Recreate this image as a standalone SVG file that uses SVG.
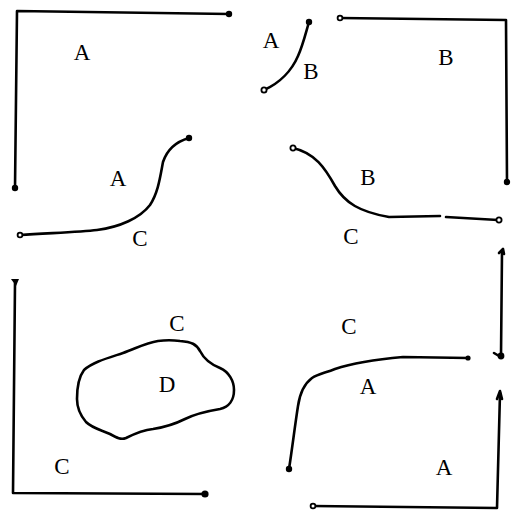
<svg xmlns="http://www.w3.org/2000/svg" width="512" height="512" viewBox="0 0 512 512">
<style>
.ln{fill:none;stroke:#000;stroke-width:2.6;stroke-linecap:round;stroke-linejoin:round}
.dot{fill:#000}
.od{fill:#fff;stroke:#000;stroke-width:1.8}
.t{font-family:"Liberation Serif","Times New Roman",serif;font-size:23px;fill:#000;text-anchor:middle}
</style>
<rect width="512" height="512" fill="#fff"/>
<!-- top-left L -->
<path class="ln" d="M229,14 L17,11 L15,188"/>
<circle class="dot" cx="229" cy="14" r="3.2"/>
<circle class="dot" cx="15" cy="188" r="3.2"/>
<!-- curve A/C left -->
<path class="ln" d="M20,235 C50,233 80,232 97,230 C120,227 140,218 150,205 C158,193 160,178 163,162 C167,150 175,142 189,138"/>
<circle class="od" cx="20" cy="235" r="2.4"/>
<circle class="dot" cx="189" cy="138" r="3.2"/>
<!-- small arc A/B -->
<path class="ln" d="M264,90 C280,83 292,70 298,56 C303,45 306,32 309,22"/>
<circle class="od" cx="264" cy="90" r="2.6"/>
<circle class="dot" cx="309" cy="22" r="3.2"/>
<!-- top-right -->
<path class="ln" d="M340,18 L506,20 L507,182"/>
<circle class="od" cx="340" cy="18" r="2.4"/>
<circle class="dot" cx="507" cy="182" r="3.2"/>
<!-- curve B/C right -->
<path class="ln" d="M293,148 C315,153 325,168 335,186 C345,203 360,212 389,217 L440,216"/>
<path class="ln" d="M446,217 L498,220"/>
<circle class="od" cx="293" cy="148" r="2.6"/>
<circle class="od" cx="499" cy="220" r="2.6"/>
<!-- right vertical with arrow -->
<path class="ln" d="M502,252 L501,356"/>
<path class="ln" d="M499,253 L503,249 L504,254"/>
<circle class="dot" cx="501" cy="356" r="3.4"/>
<path class="ln" d="M494,353 L499,356"/>
<!-- bottom-right -->
<path class="ln" d="M313,506 L497,508 L500,393"/>
<path class="ln" d="M497,399 L500,391 L502,399"/>
<circle class="od" cx="313" cy="506" r="2.4"/>
<!-- curve C/A bottom -->
<path class="ln" d="M289,469 C292,450 295,425 298,406 C300,392 304,384 312,378 C318,374 325,373 335,369 C350,364 370,360 403,357 L468,358"/>
<circle class="dot" cx="289" cy="469" r="3.2"/>
<circle class="dot" cx="468" cy="358" r="2.6"/>
<!-- bottom-left L -->
<path class="ln" d="M15,283 L13,493 L205,494"/>
<path class="dot" d="M11,279 L19,279 L16,286 Z"/>
<circle class="dot" cx="205" cy="494" r="3.6"/>
<!-- blob D -->
<path class="ln" d="M77,399 C77,388 78,378 84,370 C93,362 108,358 123,353 C135,349 145,343 158,341 C166,340 172,340 180,341 C192,342 196,344 200,351 C204,359 210,364 220,368 C229,372 234,381 234,390 C234,400 229,407 220,409 C208,411 197,413 185,419 C175,424 166,427 153,429 C143,430 136,433 126,438 C121,440 117,438 110,434 C101,430 92,428 86,422 C80,415 77,408 77,399 Z"/>
<!-- labels -->
<text class="t" x="82" y="60">A</text>
<text class="t" x="118" y="186">A</text>
<text class="t" x="140" y="246">C</text>
<text class="t" x="271" y="48">A</text>
<text class="t" x="311" y="79">B</text>
<text class="t" x="446" y="65">B</text>
<text class="t" x="368" y="185">B</text>
<text class="t" x="351" y="244">C</text>
<text class="t" x="177" y="331">C</text>
<text class="t" x="167" y="392">D</text>
<text class="t" x="62" y="474">C</text>
<text class="t" x="349" y="334">C</text>
<text class="t" x="368" y="394">A</text>
<text class="t" x="444" y="475">A</text>
</svg>
